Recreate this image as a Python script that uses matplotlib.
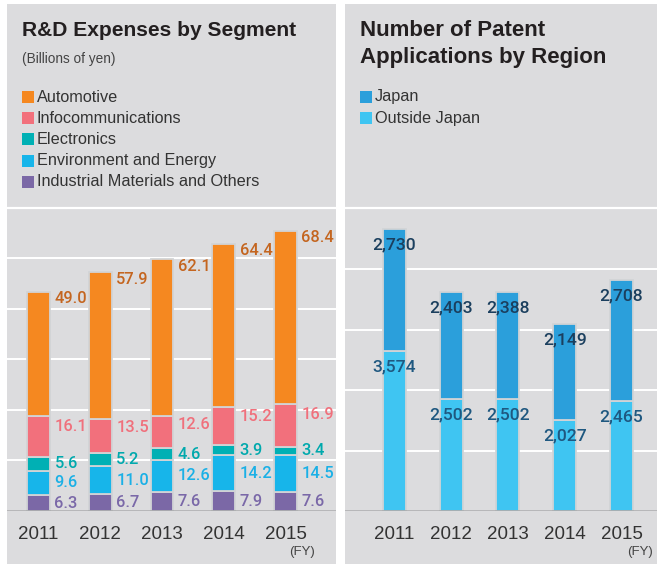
import matplotlib
matplotlib.use("Agg")
import matplotlib.pyplot as plt
from matplotlib.patches import Rectangle

plt.rcParams['font.family'] = ['Liberation Sans', 'DejaVu Sans']

# ---------------- data ----------------
years = ["2011", "2012", "2013", "2014", "2015"]
rd_segments = ["Automotive", "Infocommunications", "Electronics",
               "Environment and Energy", "Industrial Materials and Others"]
industrial = [6.3, 6.7, 7.6, 7.9, 7.6]
environment = [9.6, 11.0, 12.6, 14.2, 14.5]
electronics = [5.6, 5.2, 4.6, 3.9, 3.4]
infocomm = [16.1, 13.5, 12.6, 15.2, 16.9]
automotive = [49.0, 57.9, 62.1, 64.4, 68.4]

patent_regions = ["Japan", "Outside Japan"]
outside_japan = [3574, 2502, 2502, 2027, 2465]
japan = [2730, 2403, 2388, 2149, 2708]

# ---------------- styles ----------------
W, H = 658, 564
BG = '#dcdcde'
SEP = '#d2d4d6'
rd_colors = {"Automotive": '#f58820', "Infocommunications": '#f2707c',
             "Electronics": '#00b0b4', "Environment and Energy": '#17b5ea',
             "Industrial Materials and Others": '#7b68a6'}
rd_label_colors = {"Automotive": '#c4651f', "Infocommunications": '#f0707c',
                   "Electronics": '#00a9ad', "Environment and Energy": '#1ab0e6',
                   "Industrial Materials and Others": '#7a68a8'}
pat_colors = {"Japan": '#2b9fdb', "Outside Japan": '#3fc5f2'}
pat_label_colors = {"Japan": '#1b3f5e', "Outside Japan": '#1f5880'}
NUM_FONT = dict(family=['Roboto', 'Liberation Sans', 'DejaVu Sans'], fontweight='medium')

fig = plt.figure(figsize=(W / 100, H / 100), dpi=100)
fig.patch.set_facecolor('white')


def fx(px):
    return px / W


def fy(py):
    return 1 - py / H


# panels
for x0, x1 in [(7, 336), (345, 657)]:
    fig.patches.append(Rectangle((fx(x0), fy(H)), fx(x1 - x0), (H - 4) / H,
                                 transform=fig.transFigure, facecolor=BG,
                                 edgecolor='none', zorder=-10))
    fig.lines.append(plt.Line2D([fx(x0), fx(x1)], [fy(208), fy(208)],
                                transform=fig.transFigure, color='white',
                                lw=1.6, zorder=-9))

# titles
title_kw = dict(fontweight='bold', color='#231f20', va='center', ha='left')
fig.text(fx(22), fy(31), "R&D Expenses by Segment", fontsize=15.1, **title_kw)
fig.text(fx(360), fy(31), "Number of Patent", fontsize=16, **title_kw)
fig.text(fx(360), fy(57), "Applications by Region", fontsize=16, **title_kw)
fig.text(fx(22), fy(59), "(Billions of yen)", fontsize=9.8, color='#444444',
         va='center', ha='left')


def legend(x, y0, names, colors):
    for i, n in enumerate(names):
        y = y0 + i * 21.2
        fig.patches.append(Rectangle((fx(x), fy(y + 6)), fx(12), 12 / H,
                                     transform=fig.transFigure,
                                     facecolor=colors[n], edgecolor='none', zorder=2))
        fig.text(fx(x + 15), fy(y), n, fontsize=11.7, color='#333333',
                 va='center', ha='left')


legend(22, 97, rd_segments, rd_colors)
legend(360, 97, patent_regions, pat_colors)

# ---------------- axes ----------------
axL = fig.add_axes([fx(7), fy(511), fx(329), 302 / H])
axR = fig.add_axes([fx(345), fy(511), fx(312), 302 / H])
for ax in (axL, axR):
    ax.set_facecolor('none')
    ax.set_zorder(1)
    for s in ax.spines.values():
        s.set_visible(False)
    ax.set_yticks([])
    ax.tick_params(axis='x', length=0, labelsize=13.5, labelcolor='#333333', pad=10.8)

xs = list(range(len(years)))

# ---------------- left chart ----------------
axL.set_xlim(-0.51, 4.818)
axL.set_ylim(0, 119.4)
for g in [20, 40, 60, 80, 100]:
    axL.axhline(g, color='white', lw=1.4, zorder=1)
axL.axhline(0, color='#222222', lw=1.0, zorder=4)

series_L = [("Industrial Materials and Others", industrial),
            ("Environment and Energy", environment),
            ("Electronics", electronics),
            ("Infocommunications", infocomm),
            ("Automotive", automotive)]
bw = 0.372
bottom = [0.0] * len(years)
for name, vals in series_L:
    axL.bar(xs, vals, bw, bottom=bottom, color=rd_colors[name],
            edgecolor=SEP, linewidth=1.3, zorder=3)
    for i, v in enumerate(vals):
        b = bottom[i]
        if name == "Automotive":
            yv, dy = b + v, -7
        elif name == "Infocommunications":
            yv, dy = b + 0.75 * v, 0
        else:
            yv, dy = b + 0.5 * v, 0
        axL.annotate(f"{v:.1f}", (i + bw / 2, yv), xytext=(3.2, dy * 0.72),
                     textcoords='offset points', ha='left', va='center',
                     fontsize=11.8, color=rd_label_colors[name], zorder=5,
                     **NUM_FONT)
    bottom = [bottom[i] + vals[i] for i in range(len(vals))]
axL.set_xticks(xs, years)

# ---------------- right chart ----------------
axR.set_xlim(-0.872, 4.626)
axR.set_ylim(0, 6750)
for g in [1352, 2704, 4056, 5408]:
    axR.axhline(g, color='white', lw=1.4, zorder=1)
axR.axhline(0, color='#222222', lw=1.0, zorder=4)
bwR = 0.405
bottom = [0] * len(years)
for name, vals in [("Outside Japan", outside_japan), ("Japan", japan)]:
    axR.bar(xs, vals, bwR, bottom=bottom, color=pat_colors[name],
            edgecolor=SEP, linewidth=1.3, zorder=3)
    for i, v in enumerate(vals):
        axR.annotate(f"{v:,}", (i, bottom[i] + v), xytext=(0, -16 * 0.72),
                     textcoords='offset points', ha='center', va='center',
                     fontsize=12.6, color=pat_label_colors[name], zorder=5,
                     **NUM_FONT)
    bottom = [bottom[i] + vals[i] for i in range(len(vals))]
axR.set_xticks(xs, years)

fig.text(fx(302), fy(552), "(FY)", fontsize=9.5, color='#444444', ha='center', va='center')
fig.text(fx(640), fy(552), "(FY)", fontsize=9.5, color='#444444', ha='center', va='center')

fig.savefig("out.png", dpi=100, facecolor='white')
